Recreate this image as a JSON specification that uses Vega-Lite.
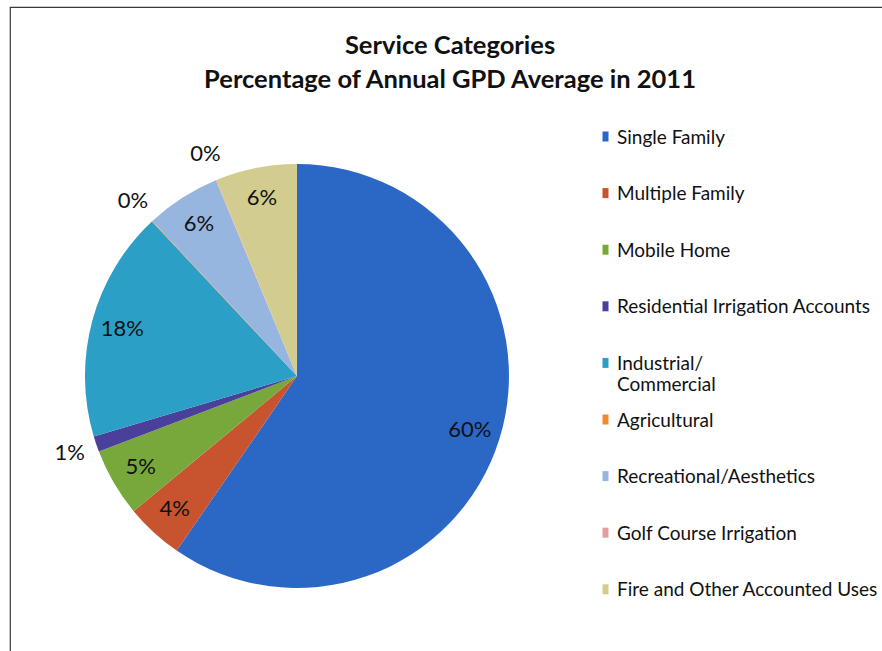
{
  "$schema": "https://vega.github.io/schema/vega-lite/v6.json",
  "width": 880,
  "height": 650,
  "autosize": {"type": "none"},
  "padding": {"left": 10, "top": 7, "right": 0, "bottom": 0},
  "background": "#ffffff",
  "title": {
    "text": ["Service Categories", "Percentage of Annual GPD Average in 2011"],
    "anchor": "middle",
    "frame": "group",
    "offset": -86,
    "font": "Lato",
    "fontSize": 25.5,
    "fontWeight": "bold",
    "color": "#111111",
    "lineHeight": 34
  },
  "data": {
    "values": [
      {"category": "Single Family", "pct": 0.596},
      {"category": "Multiple Family", "pct": 0.044},
      {"category": "Mobile Home", "pct": 0.052},
      {"category": "Residential Irrigation Accounts", "pct": 0.012},
      {"category": "Industrial/Commercial", "pct": 0.176},
      {"category": "Agricultural", "pct": 0.0005},
      {"category": "Recreational/Aesthetics", "pct": 0.057},
      {"category": "Golf Course Irrigation", "pct": 0.0005},
      {"category": "Fire and Other Accounted Uses", "pct": 0.062}
    ]
  },
  "transform": [{"window": [{"op": "row_number", "as": "rank"}]}],
  "encoding": {
    "theta": {"field": "pct", "type": "quantitative", "stack": true},
    "order": {"field": "rank", "type": "quantitative"},
    "x": {"datum": 0.3261, "type": "quantitative", "scale": {"domain": [0, 1]}, "axis": null},
    "y": {"datum": 0.5677, "type": "quantitative", "scale": {"domain": [0, 1], "reverse": true}, "axis": null}
  },
  "layer": [
    {
      "mark": {"type": "arc", "radius": 212},
      "encoding": {
        "color": {
          "field": "category",
          "type": "nominal",
          "scale": {
            "domain": ["Single Family", "Multiple Family", "Mobile Home", "Residential Irrigation Accounts", "Industrial/Commercial", "Agricultural", "Recreational/Aesthetics", "Golf Course Irrigation", "Fire and Other Accounted Uses"],
            "range": ["#2b68c6", "#c8532f", "#78a83c", "#4a3f9a", "#2b9fc6", "#ee8a2e", "#96b6e0", "#e49ea0", "#d2cd8e"]
          },
          "legend": {
            "orient": "none",
            "legendX": 586,
            "legendY": 112,
            "title": null,
            "padding": 0,
            "labelFont": "Lato",
            "labelFontSize": 19,
            "labelColor": "#111111",
            "labelLimit": 400,
            "labelBaseline": "top",
            "labelOffset": 2,
            "labelExpr": "datum.label == 'Industrial/Commercial' ? ['Industrial/', 'Commercial'] : datum.label",
            "symbolType": "M-0.6,0.6H0.6V2.6H-0.6Z",
            "symbolSize": 100,
            "symbolStrokeWidth": 0,
            "gridAlign": "all",
            "rowPadding": 6.6
          }
        }
      }
    },
    {
      "mark": {"type": "text", "font": "Lato", "fontSize": 22, "color": "#111111", "radius": 181},
      "encoding": {
        "detail": {"field": "category"},
        "text": {"condition": {"test": "datum.pct < 0.02", "value": ""}, "field": "pct", "type": "quantitative", "format": ".0%"}
      }
    },
    {
      "mark": {"type": "text", "font": "Lato", "fontSize": 22, "color": "#111111", "radius": 240},
      "encoding": {
        "detail": {"field": "category"},
        "text": {"condition": {"test": "datum.pct >= 0.02", "value": ""}, "field": "pct", "type": "quantitative", "format": ".0%"}
      }
    }
  ],
  "config": {"view": {"stroke": "#3a3a3a", "strokeWidth": 1.2}}
}
